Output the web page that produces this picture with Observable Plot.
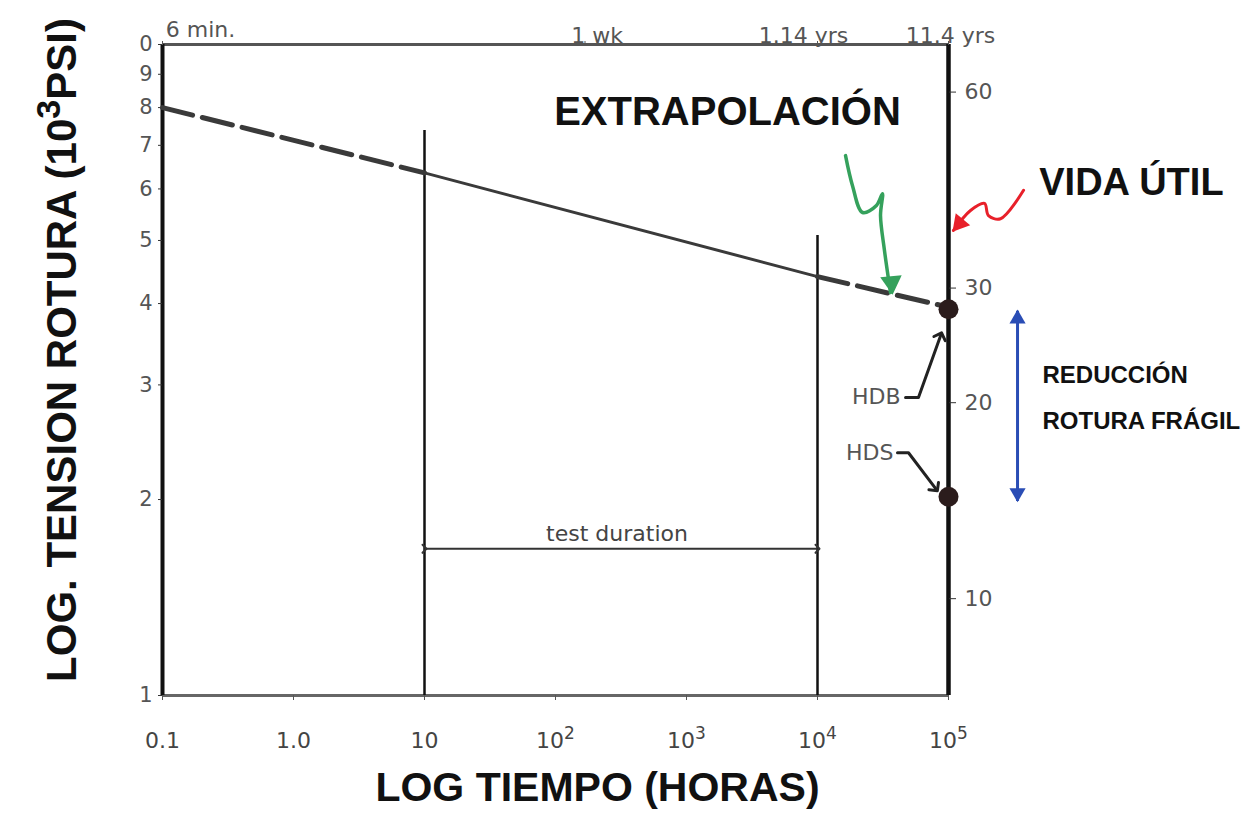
<!DOCTYPE html>
<html>
<head>
<meta charset="utf-8">
<script src="https://cdn.jsdelivr.net/npm/d3@7"></script>
<script src="https://cdn.jsdelivr.net/npm/@observablehq/plot@0.6"></script>
<style>
  html, body { margin: 0; padding: 0; background: #fff; }
  #chart { width: 1248px; height: 822px; }
</style>
</head>
<body>
<div id="chart"></div>
<script>
// ---------- data ----------
const xTickValues = [0.1, 1, 10, 100, 1000, 10000, 100000];
const xTickLabels = ["0.1", "1.0", "10", "10²", "10³", "10⁴", "10⁵"];

const topTickValues = [0.1, 168, 10000, 100000];
const topTickLabels = ["6 min.", "1 wk", "1.14 yrs", "11.4 yrs"];

const leftTickValues = [1, 2, 3, 4, 5, 6, 7, 8, 9, 10];
const leftTickLabels = ["1", "2", "3", "4", "5", "6", "7", "8", "9", "0"];

const rightTickValuesMPa = [10, 20, 30, 60];
const rightTickLabels = ["10", "20", "30", "60"];
const mpaPerKsi = 7.1; // as drawn on the hand-made right scale

// regression line (hours, 10^3 psi)
const stressHours = [0.1, 10, 10000, 100000];
const stressKsi = [8.0, 6.35, 4.4, 3.95];
const segmentStyle = ["dashed", "solid", "dashed"];

// test duration bounds
const testBoundsHours = [10, 10000];
const testBoundsTopKsi = [7.38, 5.09];
const testDurationKsi = 1.68;

// HDB / HDS points at 10^5 h
const pointNames = ["HDB", "HDS"];
const pointHours = [100000, 100000];
const pointKsi = [3.92, 2.02];

// hand-drawn annotation paths (hours, ksi)
const greenHours = [16370, 18500, 22080, 28180, 31330, 30270, 32430, 36080];
const greenKsi = [6.75, 6.07, 5.52, 5.66, 5.90, 5.46, 4.83, 4.16];
const redHours = [374000, 249500, 201900, 188300, 147200, 109100];
const redKsi = [5.97, 5.40, 5.46, 5.70, 5.56, 5.18];
const hdbLeaderHours = [47000, 59000, 87000];
const hdbLeaderKsi = [2.87, 2.87, 3.57];
const hdsLeaderHours = [40800, 49500, 79600];
const hdsLeaderKsi = [2.36, 2.36, 2.08];
const blueHours = 336500;
const blueKsiRange = [3.90, 1.99];

// ---------- derived tables ----------
const segments = [];
for (let s = 0; s < segmentStyle.length; s++) {
  segments.push({seg: s, style: segmentStyle[s], x: stressHours[s], y: stressKsi[s]});
  segments.push({seg: s, style: segmentStyle[s], x: stressHours[s + 1], y: stressKsi[s + 1]});
}
const zip = (xs, ys) => xs.map((x, i) => ({x, y: ys[i]}));
const bounds = testBoundsHours.map((x, i) => ({x, top: testBoundsTopKsi[i]}));
const points = pointNames.map((n, i) => ({name: n, x: pointHours[i], y: pointKsi[i]}));
const xLabelMap = new Map(xTickValues.map((v, i) => [v, xTickLabels[i]]));
const leftLabelMap = new Map(leftTickValues.map((v, i) => [v, leftTickLabels[i]]));
const rightTicks = rightTickValuesMPa.map(v => v / mpaPerKsi);
const rightLabelMap = new Map(rightTicks.map((v, i) => [v, rightTickLabels[i]]));
const topData = topTickValues.map((v, i) => ({x: v, label: topTickLabels[i], i}));
const greenPath = zip(greenHours, greenKsi);
const redPath = zip(redHours, redKsi);

const handFont = "'DejaVu Sans', 'Liberation Sans', sans-serif";
const boldFont = "'Liberation Sans', Arial, sans-serif";
const ink = "#3a3a3a";

// top labels, one mark each (dx/dy are constants in Plot)
const topOffsets = [[38, -23], [12, -17], [-14, -17], [2, -17]];
const topMarks = topData.map(d => Plot.text([d], {x: "x", frameAnchor: "top", text: "label",
  dx: topOffsets[d.i][0], dy: topOffsets[d.i][1], fontSize: 22, fill: "#555"}));

const chart = Plot.plot({
  width: 1248,
  height: 822,
  marginLeft: 162,
  marginRight: 300,
  marginTop: 44,
  marginBottom: 127,
  x: {type: "log", domain: [0.1, 100000], label: null},
  y: {type: "log", domain: [1, 10], label: null},
  style: {background: "#fff", fontFamily: handFont},
  marks: [
    // frame
    Plot.ruleY([10], {stroke: "#555", strokeWidth: 3}),
    Plot.ruleY([1], {stroke: "#666", strokeWidth: 3}),
    Plot.ruleX([0.1], {stroke: "#111", strokeWidth: 4}),
    Plot.ruleX([100000], {stroke: "#111", strokeWidth: 4.5}),

    // axes
    Plot.axisX({anchor: "bottom", ticks: xTickValues, tickFormat: d => xLabelMap.get(d),
      tickSize: 5, tickPadding: 32, fontSize: 22, fill: "#444", stroke: "#555", label: null}),
    Plot.axisX({anchor: "top", ticks: topTickValues, tickFormat: () => "", tickSize: 4,
      stroke: "#555", label: null}),
    Plot.axisY({anchor: "left", ticks: leftTickValues, tickFormat: d => leftLabelMap.get(d),
      tickSize: 4, tickPadding: 6, fontSize: 21, fill: "#555", stroke: "#333", label: null}),
    Plot.axisY({anchor: "right", ticks: rightTicks, tickFormat: d => rightLabelMap.get(d),
      tickSize: 7, tickPadding: 9, fontSize: 22, fill: "#555", stroke: "#333", label: null}),

    // top time labels
    ...topMarks,

    // test duration bounds
    Plot.ruleX(bounds, {x: "x", y1: 1, y2: "top", stroke: "#111", strokeWidth: 2.5}),

    // regression line
    Plot.line(segments.filter(d => d.style === "dashed"), {x: "x", y: "y", z: "seg",
      stroke: ink, strokeWidth: 5, strokeDasharray: "31,10"}),
    Plot.line(segments.filter(d => d.style === "solid"), {x: "x", y: "y", z: "seg",
      stroke: ink, strokeWidth: 3}),

    // test duration arrow
    Plot.link([0], {x1: testBoundsHours[0], x2: testBoundsHours[1], y1: testDurationKsi, y2: testDurationKsi,
      stroke: "#333", strokeWidth: 2, markerStart: "arrow", markerEnd: "arrow"}),
    Plot.text(["test duration"], {x: Math.sqrt(testBoundsHours[0] * testBoundsHours[1]), y: testDurationKsi,
      dy: -15, dx: -4, fontSize: 22, fill: "#444"}),

    // HDB / HDS
    Plot.dot(points, {x: "x", y: "y", r: 10, fill: "#2b1c1c"}),
    Plot.line(zip(hdbLeaderHours, hdbLeaderKsi), {x: "x", y: "y", stroke: "#222", strokeWidth: 3, markerEnd: "arrow"}),
    Plot.line(zip(hdsLeaderHours, hdsLeaderKsi), {x: "x", y: "y", stroke: "#222", strokeWidth: 3, markerEnd: "arrow"}),
    Plot.text(["HDB"], {x: 43000, y: 2.87, textAnchor: "end", fontSize: 22, fill: "#555"}),
    Plot.text(["HDS"], {x: 38000, y: 2.36, textAnchor: "end", fontSize: 22, fill: "#555"}),

    // green extrapolation arrow
    Plot.line(greenPath, {x: "x", y: "y", curve: "catmull-rom", stroke: "#35a15c", strokeWidth: 3.5}),
    Plot.dot(greenPath.slice(-1), {x: "x", y: "y", symbol: "triangle", r: 8, rotate: 175,
      dx: 1, dy: -10, fill: "#35a15c"}),
    // red service-life arrow
    Plot.line(redPath, {x: "x", y: "y", curve: "catmull-rom", stroke: "#e8202a", strokeWidth: 3}),
    Plot.dot(redPath.slice(-1), {x: "x", y: "y", symbol: "triangle", r: 7, rotate: 220,
      dx: 6, dy: -7, fill: "#e8202a"}),
    // blue double arrow
    Plot.link([0], {x1: blueHours, x2: blueHours, y1: blueKsiRange[0], y2: blueKsiRange[1],
      stroke: "#2a4db5", strokeWidth: 3}),
    Plot.dot([0], {x: blueHours, y: blueKsiRange[0], symbol: "triangle", r: 6, rotate: 0,
      dy: 8, fill: "#2a4db5"}),
    Plot.dot([0], {x: blueHours, y: blueKsiRange[1], symbol: "triangle", r: 6, rotate: 180,
      dy: -8, fill: "#2a4db5"}),

    // annotations
    Plot.text(["EXTRAPOLACIÓN"], {x: 2056, y: 7.87, fontSize: 40, fontWeight: "bold",
      fontFamily: boldFont, fill: "#111"}),
    Plot.text(["VIDA ÚTIL"], {x: 2.49e6, y: 6.12, fontSize: 38, fontWeight: "bold",
      fontFamily: boldFont, fill: "#111"}),
    Plot.text(["REDUCCIÓN"], {x: 5.22e5, y: 3.10, textAnchor: "start", fontSize: 24, fontWeight: "bold",
      fontFamily: boldFont, fill: "#111"}),
    Plot.text(["ROTURA FRÁGIL"], {x: 5.22e5, y: 2.64, textAnchor: "start", fontSize: 24, fontWeight: "bold",
      fontFamily: boldFont, fill: "#111"}),

    // axis titles
    Plot.text(["LOG TIEMPO (HORAS)"], {frameAnchor: "bottom", dx: 42, dy: 105, fontSize: 41,
      fontWeight: "bold", fontFamily: boldFont, fill: "#111"}),
    Plot.text(["LOG. TENSION ROTURA (10³PSI)"], {frameAnchor: "left", textAnchor: "middle", rotate: -90,
      dx: -100, dy: -20, fontSize: 42, fontWeight: "bold", fontFamily: boldFont, fill: "#111"})
  ]
});

document.getElementById("chart").appendChild(chart);

// larger raised exponents, as hand-lettered in the original
const supers = {"²": "2", "³": "3", "⁴": "4", "⁵": "5"};
d3.select(chart).selectAll("text").each(function () {
  const txt = this.textContent;
  if (txt === "LOG. TENSION ROTURA (10³PSI)") {
    const t = d3.select(this);
    t.text(null);
    t.append("tspan").text("LOG. TENSION ROTURA (10");
    t.append("tspan").attr("dy", -16).attr("font-size", 34).text("3");
    t.append("tspan").attr("dy", 16).text("PSI)");
  } else if (/^10[²³⁴⁵]$/.test(txt)) {
    const t = d3.select(this);
    t.text(null);
    t.append("tspan").text("10");
    t.append("tspan").attr("dy", -9).attr("font-size", 17).text(supers[txt[2]]);
  }
});
</script>
</body>
</html>
